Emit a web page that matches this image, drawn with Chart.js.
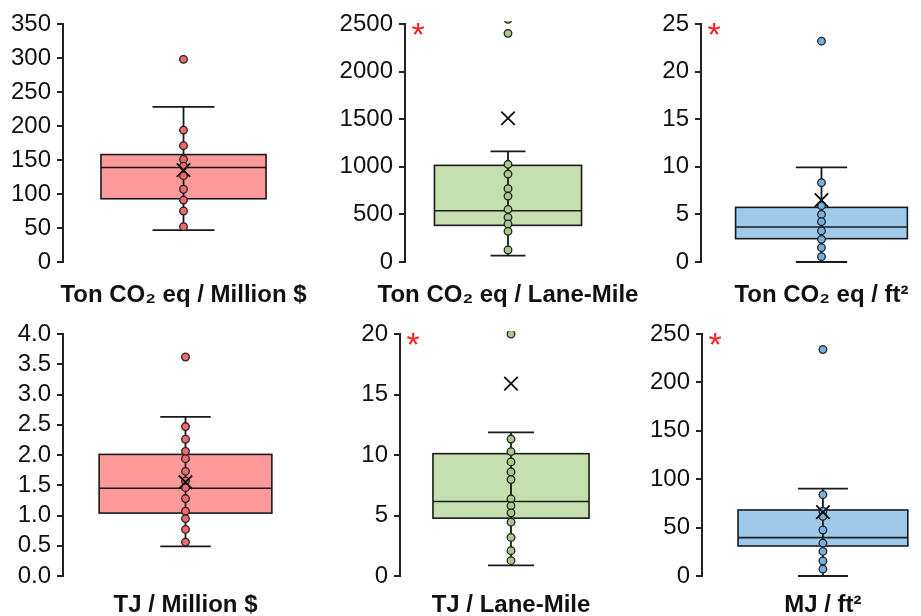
<!DOCTYPE html>
<html>
<head>
<meta charset="utf-8">
<script src="https://cdn.jsdelivr.net/npm/chart.js@4.4.1/dist/chart.umd.min.js"></script>
<style>
  html, body { margin: 0; padding: 0; background: #ffffff; }
  #wrap { position: relative; width: 921px; height: 616px; overflow: hidden; background: #ffffff; }
  #wrap canvas { position: absolute; left: 0; top: 0; }
</style>
</head>
<body>
<div id="wrap">
  <canvas id="c1" width="921" height="616"></canvas>
  <canvas id="c2" width="921" height="616"></canvas>
  <canvas id="c3" width="921" height="616"></canvas>
  <canvas id="c4" width="921" height="616"></canvas>
  <canvas id="c5" width="921" height="616"></canvas>
  <canvas id="c6" width="921" height="616"></canvas>
</div>
<script>
// Box statistics are [lower whisker, Q1, median, Q3, upper whisker]

// Embodied carbon per million dollars
const co2MoneyStats  = [47, 93, 139, 158, 228];
const co2MoneyMean   = 135;
const co2MoneyPoints = [298, 194, 171, 151, 141, 127, 107, 91, 75, 52];
const co2MoneyTicks  = [0, 50, 100, 150, 200, 250, 300, 350];

// Embodied carbon per lane-mile
const co2LaneStats  = [66, 385, 539, 1015, 1163];
const co2LaneMean   = 1510;
const co2LanePoints = [2550, 2402, 1026, 924, 770, 693, 553, 469, 399, 322, 126];
const co2LaneTicks  = [0, 500, 1000, 1500, 2000, 2500];

// Embodied carbon per square foot
const co2AreaStats  = [0, 2.45, 3.68, 5.74, 9.94];
const co2AreaMean   = 6.5;
const co2AreaPoints = [23.2, 8.33, 5.92, 5.0, 4.24, 3.26, 2.38, 1.5, 0.56];
const co2AreaTicks  = [0, 5, 10, 15, 20, 25];

// Embodied energy per million dollars
const energyMoneyStats  = [0.49, 1.04, 1.45, 2.01, 2.63];
const energyMoneyMean   = 1.55;
const energyMoneyPoints = [3.62, 2.47, 2.26, 2.06, 1.94, 1.73, 1.57, 1.46, 1.28, 1.07, 0.95, 0.77, 0.56];
const energyMoneyTicks  = [0, 0.5, 1.0, 1.5, 2.0, 2.5, 3.0, 3.5, 4.0];

// Embodied energy per lane-mile
const energyLaneStats  = [0.88, 4.78, 6.16, 10.11, 11.87];
const energyLaneMean   = 15.9;
const energyLanePoints = [20.0, 11.32, 10.28, 9.43, 8.6, 7.97, 6.38, 5.8, 5.22, 4.45, 3.19, 2.09, 1.27];
const energyLaneTicks  = [0, 5, 10, 15, 20];

// Embodied energy per square foot
const energyAreaStats  = [0, 31.0, 39.6, 68.2, 90.2];
const energyAreaMean   = 66;
const energyAreaPoints = [234, 84, 67, 61.6, 47.5, 34, 25.4, 15.5, 7.2];
const energyAreaTicks  = [0, 50, 100, 150, 200, 250];

const titles = [
  'Ton CO\u2082 eq / Million $',
  'Ton CO\u2082 eq / Lane-Mile',
  'Ton CO\u2082 eq / ft\u00b2',
  'TJ / Million $',
  'TJ / Lane-Mile',
  'MJ / ft\u00b2'
];

const themes = {
  red:   { box: '#ff9a9a', point: '#f06a6c' },
  green: { box: '#c6dfaf', point: '#a8c98a' },
  blue:  { box: '#9ec9ea', point: '#74b1e0' }
};

const FONT = "'Liberation Sans', Arial, Helvetica, sans-serif";
const INK = '#1a1a1a';
const Y_AXIS_WIDTH = 90;

// Frame of each panel on the page (axis line, plot top/bottom, box centre, right edge)
const frames = [
  { axisX: 63,  top: 24,  bottom: 262, center: 183.5, right: 304, boxHalf: 0.685, capHalf: 0.257, titleBase: 302 },
  { axisX: 405, top: 24,  bottom: 262, center: 508,   right: 611, boxHalf: 0.714, capHalf: 0.17,  titleBase: 302 },
  { axisX: 701, top: 24,  bottom: 262, center: 828,   right: 921, boxHalf: 0.713, capHalf: 0.213, titleBase: 302 },
  { axisX: 63,  top: 334, bottom: 576, center: 185.5, right: 308, boxHalf: 0.705, capHalf: 0.206, titleBase: 612 },
  { axisX: 400, top: 334, bottom: 576, center: 511,   right: 622, boxHalf: 0.703, capHalf: 0.207, titleBase: 612 },
  { axisX: 702, top: 334, bottom: 576, center: 829.5, right: 921, boxHalf: 0.702, capHalf: 0.207, titleBase: 612 }
];

const panels = [
  { stats: co2MoneyStats,    mean: co2MoneyMean,    points: co2MoneyPoints,    ticks: co2MoneyTicks,    theme: 'red',   star: false, decimals: 0 },
  { stats: co2LaneStats,     mean: co2LaneMean,     points: co2LanePoints,     ticks: co2LaneTicks,     theme: 'green', star: true,  decimals: 0 },
  { stats: co2AreaStats,     mean: co2AreaMean,     points: co2AreaPoints,     ticks: co2AreaTicks,     theme: 'blue',  star: true,  decimals: 0 },
  { stats: energyMoneyStats, mean: energyMoneyMean, points: energyMoneyPoints, ticks: energyMoneyTicks, theme: 'red',   star: false, decimals: 1 },
  { stats: energyLaneStats,  mean: energyLaneMean,  points: energyLanePoints,  ticks: energyLaneTicks,  theme: 'green', star: true,  decimals: 0 },
  { stats: energyAreaStats,  mean: energyAreaMean,  points: energyAreaPoints,  ticks: energyAreaTicks,  theme: 'blue',  star: true,  decimals: 0 }
];

// Draws the box, median, whiskers and caps underneath the scatter points,
// then the axis caption and significance star on top.
const boxPlotPlugin = {
  id: 'boxPlot',
  beforeDatasetsDraw(chart, args, opts) {
    const { ctx } = chart;
    const xs = chart.scales.x, ys = chart.scales.y;
    const [lo, q1, med, q3, hi] = opts.stats;
    const xc = xs.getPixelForValue(0);
    const xl = xs.getPixelForValue(-opts.boxHalf);
    const xr = xs.getPixelForValue(opts.boxHalf);
    const cl = xs.getPixelForValue(-opts.capHalf);
    const cr = xs.getPixelForValue(opts.capHalf);
    const yq1 = ys.getPixelForValue(q1), yq3 = ys.getPixelForValue(q3);
    const ymed = ys.getPixelForValue(med);
    const ylo = ys.getPixelForValue(lo), yhi = ys.getPixelForValue(hi);
    ctx.save();
    ctx.fillStyle = opts.boxColor;
    ctx.fillRect(xl, yq3, xr - xl, yq1 - yq3);
    ctx.strokeStyle = INK;
    ctx.lineWidth = 1.6;
    ctx.strokeRect(xl, yq3, xr - xl, yq1 - yq3);
    ctx.beginPath();
    ctx.moveTo(xl, ymed); ctx.lineTo(xr, ymed);
    ctx.stroke();
    ctx.lineWidth = 1.8;
    ctx.beginPath();
    ctx.moveTo(xc, ylo); ctx.lineTo(xc, yhi);
    ctx.moveTo(cl, ylo); ctx.lineTo(cr, ylo);
    ctx.moveTo(cl, yhi); ctx.lineTo(cr, yhi);
    ctx.stroke();
    ctx.restore();
  },
  afterDraw(chart, args, opts) {
    const { ctx, chartArea } = chart;
    const xs = chart.scales.x;
    ctx.save();
    ctx.fillStyle = '#111111';
    ctx.font = 'bold 24px ' + FONT;
    ctx.textAlign = 'center';
    ctx.textBaseline = 'alphabetic';
    ctx.fillText(opts.title, xs.getPixelForValue(0), opts.titleBase);
    if (opts.star) {
      ctx.fillStyle = '#ff2020';
      ctx.font = '34px ' + FONT;
      ctx.textAlign = 'center';
      ctx.textBaseline = 'alphabetic';
      ctx.fillText('*', chartArea.left + 13, chartArea.top + 22);
    }
    ctx.restore();
  }
};

panels.forEach((p, i) => {
  const f = frames[i];
  const theme = themes[p.theme];
  const xMax = (f.right - f.center) / (f.center - f.axisX);
  new Chart(document.getElementById('c' + (i + 1)), {
    type: 'scatter',
    data: {
      datasets: [
        {
          label: 'mean',
          data: [{ x: 0, y: p.mean }],
          pointStyle: 'crossRot',
          pointRadius: 9.5,
          pointBorderWidth: 1.8,
          borderColor: '#111111',
          backgroundColor: 'rgba(0,0,0,0)'
        },
        {
          label: 'values',
          data: p.points.map(v => ({ x: 0, y: v })),
          pointStyle: 'circle',
          pointRadius: 3.8,
          pointBorderWidth: 1.3,
          borderColor: '#222222',
          backgroundColor: theme.point,
          clip: { left: false, right: false, top: 3, bottom: false }
        }
      ]
    },
    options: {
      responsive: false,
      animation: false,
      events: [],
      layout: {
        padding: {
          left: f.axisX - Y_AXIS_WIDTH,
          right: 921 - f.right,
          top: f.top,
          bottom: 616 - f.bottom
        }
      },
      scales: {
        x: { type: 'linear', display: false, min: -1, max: xMax },
        y: {
          type: 'linear',
          min: p.ticks[0],
          max: p.ticks[p.ticks.length - 1],
          afterBuildTicks(scale) { scale.ticks = p.ticks.map(v => ({ value: v })); },
          afterFit(scale) { scale.width = Y_AXIS_WIDTH; },
          grid: { display: true, drawOnChartArea: false, drawTicks: true, tickLength: 6, color: '#222222', lineWidth: 2 },
          border: { display: true, color: '#222222', width: 2 },
          ticks: {
            autoSkip: false,
            padding: 6,
            color: '#111111',
            font: { family: FONT, size: 24 },
            callback: v => Number(v).toFixed(p.decimals)
          }
        }
      },
      plugins: {
        legend: { display: false },
        tooltip: { enabled: false },
        boxPlot: {
          stats: p.stats,
          boxColor: theme.box,
          boxHalf: f.boxHalf,
          capHalf: f.capHalf,
          title: titles[i],
          titleBase: f.titleBase,
          star: p.star
        }
      }
    },
    plugins: [boxPlotPlugin]
  });
});
</script>
</body>
</html>
